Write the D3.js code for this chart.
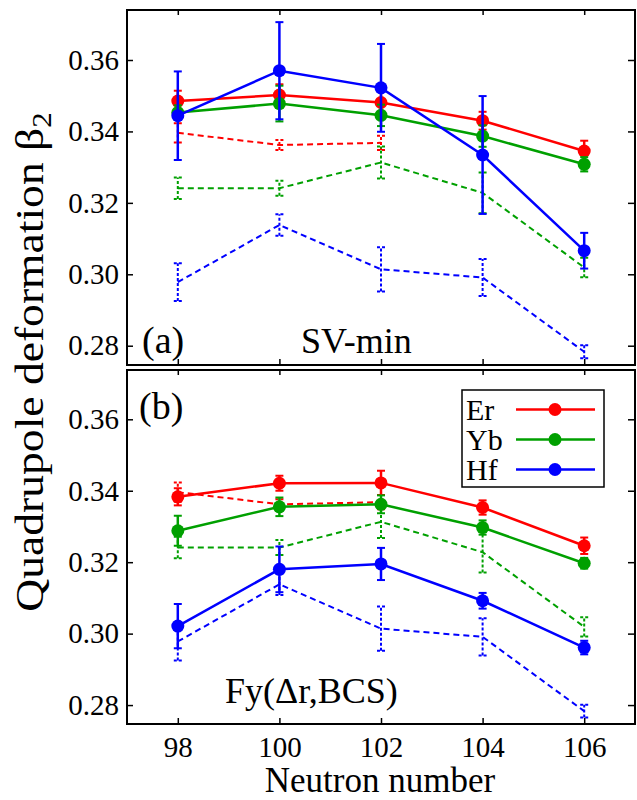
<!DOCTYPE html>
<html><head><meta charset="utf-8">
<script src="https://cdn.jsdelivr.net/npm/d3@7"></script>
<style>body{margin:0;background:#fff}svg{display:block}svg text{font-family:"Liberation Serif","Times New Roman",serif !important;fill:#000}</style>
</head><body>
<script>
const neutrons = [98, 100, 102, 104, 106];
const xTicks = [98, 100, 102, 104, 106];
const yTicks = [0.28, 0.30, 0.32, 0.34, 0.36];
const elements = ["Er", "Yb", "Hf"];
const colors = ["#ff0000", "#00a000", "#0000ff"];

// Panel (a) SV-min
const svminEr = [0.3485, 0.3502, 0.3481, 0.3430, 0.3345];
const svminErErr = [0.0029, 0.0030, 0.0030, 0.0025, 0.0029];
const svminYb = [0.3453, 0.3478, 0.3445, 0.3387, 0.3308];
const svminYbErr = [0.0020, 0.0050, 0.0030, 0.0030, 0.0020];
const svminHf = [0.3444, 0.3570, 0.3522, 0.3334, 0.3066];
const svminHfErr = [0.0124, 0.0136, 0.0123, 0.0165, 0.0050];

// Panel (b) Fy(Δr,BCS)
const fyEr = [0.3383, 0.3421, 0.3422, 0.3353, 0.3246];
const fyErErr = [0.0024, 0.0021, 0.0034, 0.0020, 0.0023];
const fyYb = [0.3288, 0.3355, 0.3362, 0.3297, 0.3197];
const fyYbErr = [0.0042, 0.0026, 0.0025, 0.0020, 0.0015];
const fyHf = [0.3021, 0.3180, 0.3195, 0.3092, 0.2961];
const fyHfErr = [0.0062, 0.0064, 0.0045, 0.0022, 0.0019];

// Dashed reference (same in both panels)
const refErN = [98, 100, 102];
const refEr = [0.3396, 0.3362, 0.3368];
const refErErr = [0.0027, 0.0014, 0.0020];
const refYb = [0.3241, 0.3241, 0.3313, 0.3228, 0.3019];
const refYbErr = [0.0030, 0.0021, 0.0045, 0.0057, 0.0027];
const refHf = [0.2978, 0.3138, 0.3014, 0.2991, 0.2783];
const refHfErr = [0.0053, 0.0030, 0.0062, 0.0052, 0.0018];

const W = 637, H = 800;
const FONT = '"Liberation Serif","Times New Roman",serif';
const svg = d3.select("body").append("svg").attr("width", W).attr("height", H).attr("font-family", FONT);
const x = d3.scaleLinear().domain([97, 107]).range([127, 635]);

const panels = [
  {id: "a", top: 10, bottom: 365, domain: [0.2746, 0.374], label: "(a)", labelX: 142, labelY: 353,
   name: "SV-min", nameX: 301, nameY: 353,
   solid: [[svminEr, svminErErr], [svminYb, svminYbErr], [svminHf, svminHfErr]]},
  {id: "b", top: 370, bottom: 724, domain: [0.2747, 0.3738], label: "(b)", labelX: 139, labelY: 419,
   name: "Fy(Δr,BCS)", nameX: 225, nameY: 703,
   solid: [[fyEr, fyErErr], [fyYb, fyYbErr], [fyHf, fyHfErr]]}
];
const refs = [[refErN, refEr, refErErr], [neutrons, refYb, refYbErr], [neutrons, refHf, refHfErr]];

function styleAxis(a) {
  a.attr("font-family", FONT).attr("font-size", 29);
  a.select(".domain").remove();
  a.selectAll("line").attr("stroke-width", 1.5);
}

panels.forEach((p, pi) => {
  const y = d3.scaleLinear().domain(p.domain).range([p.bottom, p.top]);
  const g = svg.append("g");
  g.append("clipPath").attr("id", "clip" + p.id).append("rect")
    .attr("x", 127).attr("y", p.top).attr("width", 508).attr("height", p.bottom - p.top);
  const plot = g.append("g").attr("clip-path", `url(#clip${p.id})`);

  g.append("g").attr("transform", `translate(127,0)`)
    .call(d3.axisLeft(y).tickValues(yTicks).tickSize(-6).tickFormat(d3.format(".2f")).tickPadding(8))
    .call(styleAxis);
  g.append("g").attr("transform", `translate(635,0)`)
    .call(d3.axisRight(y).tickValues(yTicks).tickSize(-7).tickFormat(""))
    .call(styleAxis);
  g.append("g").attr("transform", `translate(0,${p.top})`)
    .call(d3.axisTop(x).tickValues(xTicks).tickSize(-5).tickFormat(""))
    .call(styleAxis);
  g.append("g").attr("transform", `translate(0,${p.bottom})`)
    .call(d3.axisBottom(x).tickValues(xTicks).tickSize(-6).tickPadding(12).tickFormat(pi === 1 ? d3.format("d") : ""))
    .call(styleAxis);

  refs.forEach((r, i) => {
    const [ns, vals, errs] = r;
    const pts = ns.map((n, k) => ({n, v: vals[k], e: errs[k]}));
    plot.append("path").datum(pts)
      .attr("d", d3.line().x(d => x(d.n)).y(d => y(d.v)))
      .attr("fill", "none").attr("stroke", colors[i]).attr("stroke-width", 2).attr("stroke-dasharray", "6,4");
    const eb = plot.append("g").attr("stroke", colors[i]).attr("stroke-width", 2).attr("stroke-dasharray", "3,2");
    pts.forEach(d => {
      eb.append("line").attr("x1", x(d.n)).attr("x2", x(d.n)).attr("y1", y(d.v - d.e)).attr("y2", y(d.v + d.e));
      [d.v - d.e, d.v + d.e].forEach(c => eb.append("line").attr("x1", x(d.n) - 4).attr("x2", x(d.n) + 4).attr("y1", y(c)).attr("y2", y(c)));
    });
  });

  p.solid.forEach((s, i) => {
    const [vals, errs] = s;
    const pts = neutrons.map((n, k) => ({n, v: vals[k], e: errs[k]}));
    const sg = plot.append("g");
    sg.append("path").datum(pts)
      .attr("d", d3.line().x(d => x(d.n)).y(d => y(d.v)))
      .attr("fill", "none").attr("stroke", colors[i]).attr("stroke-width", 2.5);
    pts.forEach(d => {
      sg.append("line").attr("x1", x(d.n)).attr("x2", x(d.n)).attr("y1", y(d.v - d.e)).attr("y2", y(d.v + d.e))
        .attr("stroke", colors[i]).attr("stroke-width", 2.5);
      [d.v - d.e, d.v + d.e].forEach(c => sg.append("line").attr("x1", x(d.n) - 4).attr("x2", x(d.n) + 4).attr("y1", y(c)).attr("y2", y(c))
        .attr("stroke", colors[i]).attr("stroke-width", 2));
    });
    sg.selectAll("circle").data(pts).join("circle")
      .attr("cx", d => x(d.n)).attr("cy", d => y(d.v)).attr("r", 6.5).attr("fill", colors[i]);
  });

  g.append("rect").attr("x", 127).attr("y", p.top).attr("width", 508).attr("height", p.bottom - p.top)
    .attr("fill", "none").attr("stroke", "#000").attr("stroke-width", 2);

  g.append("text").attr("x", p.labelX).attr("y", p.labelY).attr("font-size", 38).text(p.label);
  g.append("text").attr("x", p.nameX).attr("y", p.nameY).attr("font-size", 36).text(p.name);

  if (pi === 1) {
    const lg = g.append("g");
    lg.append("rect").attr("x", 462).attr("y", 390).attr("width", 142).attr("height", 97)
      .attr("fill", "#fff").attr("stroke", "#000").attr("stroke-width", 1.5);
    elements.forEach((e, i) => {
      const ry = 409.5 + i * 30;
      lg.append("text").attr("x", 466).attr("y", ry + 10).attr("font-size", 30).text(e);
      lg.append("line").attr("x1", 516).attr("x2", 595).attr("y1", ry).attr("y2", ry).attr("stroke", colors[i]).attr("stroke-width", 2.5);
      lg.append("circle").attr("cx", 555).attr("cy", ry).attr("r", 6.5).attr("fill", colors[i]);
    });
  }
});

svg.append("text").attr("x", 380).attr("y", 792).attr("text-anchor", "middle").attr("font-size", 35).text("Neutron number");
const yt = svg.append("text").attr("transform", "translate(43,362) rotate(-90) scale(1.14,1)").attr("text-anchor", "middle").attr("font-size", 40);
yt.append("tspan").text("Quadrupole deformation β");
yt.append("tspan").attr("font-size", 27).attr("dy", 8).text("2");
</script>
</body></html>
